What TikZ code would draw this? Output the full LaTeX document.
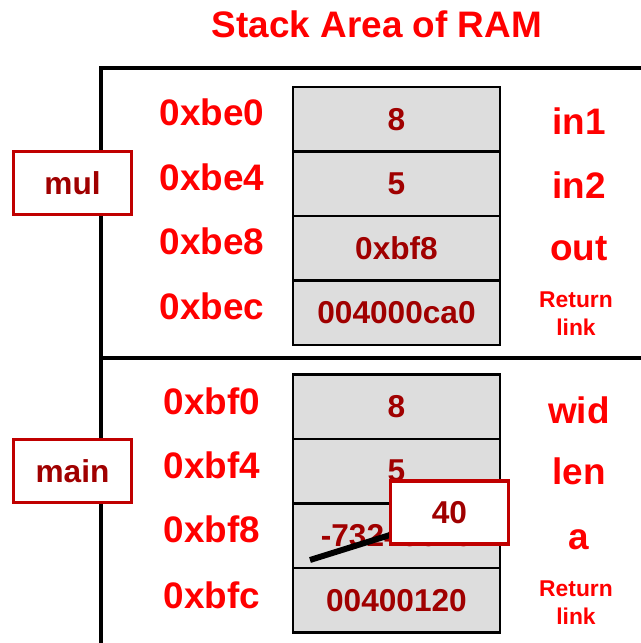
\documentclass[tikz,border=0pt]{standalone}
\usepackage{fontspec}
\setmainfont{Liberation Sans}
\usepackage{tikz}
\usetikzlibrary{positioning}
\definecolor{sred}{HTML}{FF0000}
\definecolor{sdark}{HTML}{A00000}
\definecolor{sframe}{HTML}{C00000}
\definecolor{sgray}{HTML}{DDDDDD}
\tikzset{
  cell/.style={draw=black, fill=sgray, line width=1.3pt, minimum width=4.14cm,
               minimum height=1.29cm, inner sep=0pt, text=sdark,
               font=\fontsize{18}{21}\selectfont\bfseries},
  addr/.style={text=sred, inner sep=0pt, font=\fontsize{21}{24}\selectfont\bfseries},
  vname/.style={text=sred, inner sep=0pt, font=\fontsize{21}{24}\selectfont\bfseries},
  retlink/.style={text=sred, align=center, inner sep=0pt,
                  font=\fontsize{13}{16}\selectfont\bfseries},
  fnbox/.style={draw=sframe, fill=white, line width=1.8pt, minimum width=2.36cm,
                minimum height=1.26cm, inner sep=0pt, text=sdark,
                font=\fontsize{18}{21}\selectfont\bfseries},
  stackline/.style={line width=2.3pt, black},
  strikeline/.style={line width=3.4pt, black},
}
\begin{document}
\begin{tikzpicture}[x=0.02cm, y=-0.02cm]
  \useasboundingbox (0,0) rectangle (641,643);

  \node[text=sred, font=\fontsize{21}{24}\selectfont\bfseries] (title) at (377,24) {Stack Area of RAM};

  % frame of the stack
  \draw[stackline] (641,68) -- (101,68) -- (101,643);
  \draw[stackline] (101,358) -- (641,358);

  % mul frame
  \node[cell] (in1cell) at (396.5,119.25) {8};
  \node[cell] (in2cell) at (396.5,183.75) {5};
  \node[cell] (outcell) at (396.5,248.25) {0xbf8};
  \node[cell] (mulret) at (396.5,312.75) {004000ca0};

  \node[addr] (abe0) at (212,112.5) {0xbe0};
  \node[addr] (abe4) at (212,177) {0xbe4};
  \node[addr] (abe8) at (212,241) {0xbe8};
  \node[addr] (abec) at (212,306) {0xbec};

  \node[vname] (in1) at (579,121) {in1};
  \node[vname] (in2) at (579,185) {in2};
  \node[vname] (out) at (579,249) {out};
  \node[retlink] (mullink) at (576,314) {Return\\link};

  % main frame
  \node[cell] (widcell) at (396.5,406.75) {8};
  \node[cell] (lencell) at (396.5,471.25) {5};
  \node[cell] (acell) at (396.5,535.75) {-73249646};
  \node[cell] (mainret) at (396.5,600.25) {00400120};

  \node[addr] (abf0) at (212,401) {0xbf0};
  \node[addr] (abf4) at (212,465) {0xbf4};
  \node[addr] (abf8) at (212,529) {0xbf8};
  \node[addr] (abfc) at (212,595) {0xbfc};

  \node[vname] (wid) at (579,410) {wid};
  \node[vname] (len) at (579,471.5) {len};
  \node[vname] (a) at (579,540) {a};
  \node[retlink] (mainlink) at (576,602.5) {Return\\link};

  \node[fnbox] (mul) at (72.5,183) {mul};
  \node[fnbox] (main) at (72.5,471) {main};

  % new value of a
  \coordinate (strike) at (310,560);
  \coordinate (strikeend) at (406,530);
  \draw[strikeline] (strike) -- (strikeend);
  \node[fnbox] (newa) at (449.5,512.5) {40};
\end{tikzpicture}
\end{document}
